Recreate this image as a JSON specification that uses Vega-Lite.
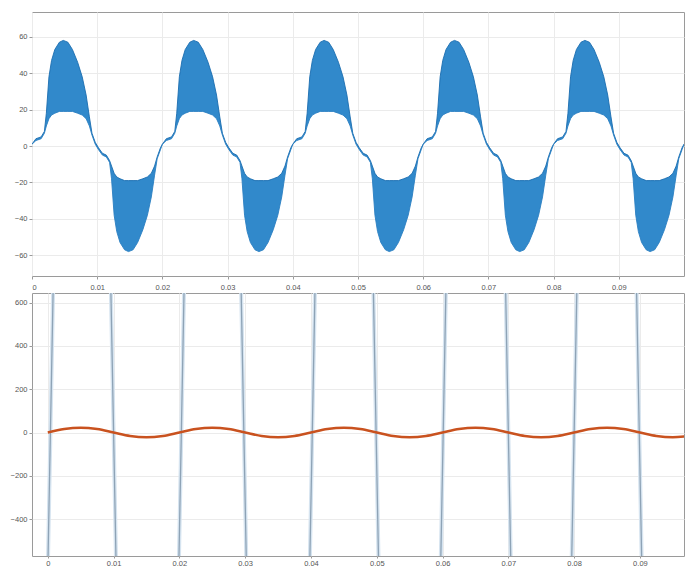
{
  "$schema": "https://vega.github.io/schema/vega-lite/v6.json",
  "padding": {"left": 0, "top": 11, "right": 1, "bottom": 0},
  "background": "white",
  "config": {
    "view": {"stroke": "#9a9a9a", "strokeWidth": 1},
    "axis": {"labelFontSize": 7.5, "labelColor": "#555555", "labelFont": "Liberation Sans", "tickColor": "#9a9a9a", "tickSize": 3, "domain": false, "gridColor": "#ebebeb", "gridWidth": 1, "title": null, "labelPadding": 2}
  },
  "datasets": {
    "top": [
      {"t":0,"u":1,"l":1},{"t":0.0006,"u":4,"l":3},{"t":0.0014,"u":5,"l":4},{"t":0.0019,"u":8,"l":7},{"t":0.0022,"u":18,"l":11},{"t":0.0026,"u":38,"l":15},{"t":0.003,"u":47,"l":17},{"t":0.0035,"u":53,"l":18},{"t":0.0042,"u":57,"l":19},{"t":0.0048,"u":58,"l":19},{"t":0.0055,"u":57,"l":19},{"t":0.0062,"u":53,"l":19},{"t":0.007,"u":46,"l":18},{"t":0.0077,"u":38,"l":17},{"t":0.0083,"u":28,"l":15},{"t":0.0088,"u":16,"l":11},{"t":0.0092,"u":7,"l":6},{"t":0.0097,"u":2,"l":1},{"t":0.0102,"u":-1,"l":-2},{"t":0.0108,"u":-4,"l":-5},{"t":0.0114,"u":-5,"l":-6},{"t":0.0119,"u":-8,"l":-9},{"t":0.0122,"u":-11,"l":-18},{"t":0.0126,"u":-15,"l":-38},{"t":0.013,"u":-17,"l":-47},{"t":0.0135,"u":-18,"l":-53},{"t":0.0142,"u":-19,"l":-57},{"t":0.0148,"u":-19,"l":-58},{"t":0.0155,"u":-19,"l":-57},{"t":0.0162,"u":-19,"l":-53},{"t":0.017,"u":-18,"l":-46},{"t":0.0177,"u":-17,"l":-38},{"t":0.0183,"u":-15,"l":-28},{"t":0.0188,"u":-11,"l":-16},{"t":0.0192,"u":-6,"l":-7},{"t":0.0197,"u":-1,"l":-2},
      {"t":0.02,"u":1,"l":1},{"t":0.0206,"u":4,"l":3},{"t":0.0214,"u":5,"l":4},{"t":0.0219,"u":8,"l":7},{"t":0.0222,"u":18,"l":11},{"t":0.0226,"u":38,"l":15},{"t":0.023,"u":47,"l":17},{"t":0.0235,"u":53,"l":18},{"t":0.0242,"u":57,"l":19},{"t":0.0248,"u":58,"l":19},{"t":0.0255,"u":57,"l":19},{"t":0.0262,"u":53,"l":19},{"t":0.027,"u":46,"l":18},{"t":0.0277,"u":38,"l":17},{"t":0.0283,"u":28,"l":15},{"t":0.0288,"u":16,"l":11},{"t":0.0292,"u":7,"l":6},{"t":0.0297,"u":2,"l":1},{"t":0.0302,"u":-1,"l":-2},{"t":0.0308,"u":-4,"l":-5},{"t":0.0314,"u":-5,"l":-6},{"t":0.0319,"u":-8,"l":-9},{"t":0.0322,"u":-11,"l":-18},{"t":0.0326,"u":-15,"l":-38},{"t":0.033,"u":-17,"l":-47},{"t":0.0335,"u":-18,"l":-53},{"t":0.0342,"u":-19,"l":-57},{"t":0.0348,"u":-19,"l":-58},{"t":0.0355,"u":-19,"l":-57},{"t":0.0362,"u":-19,"l":-53},{"t":0.037,"u":-18,"l":-46},{"t":0.0377,"u":-17,"l":-38},{"t":0.0383,"u":-15,"l":-28},{"t":0.0388,"u":-11,"l":-16},{"t":0.0392,"u":-6,"l":-7},{"t":0.0397,"u":-1,"l":-2},
      {"t":0.04,"u":1,"l":1},{"t":0.0406,"u":4,"l":3},{"t":0.0414,"u":5,"l":4},{"t":0.0419,"u":8,"l":7},{"t":0.0422,"u":18,"l":11},{"t":0.0426,"u":38,"l":15},{"t":0.043,"u":47,"l":17},{"t":0.0435,"u":53,"l":18},{"t":0.0442,"u":57,"l":19},{"t":0.0448,"u":58,"l":19},{"t":0.0455,"u":57,"l":19},{"t":0.0462,"u":53,"l":19},{"t":0.047,"u":46,"l":18},{"t":0.0477,"u":38,"l":17},{"t":0.0483,"u":28,"l":15},{"t":0.0488,"u":16,"l":11},{"t":0.0492,"u":7,"l":6},{"t":0.0497,"u":2,"l":1},{"t":0.0502,"u":-1,"l":-2},{"t":0.0508,"u":-4,"l":-5},{"t":0.0514,"u":-5,"l":-6},{"t":0.0519,"u":-8,"l":-9},{"t":0.0522,"u":-11,"l":-18},{"t":0.0526,"u":-15,"l":-38},{"t":0.053,"u":-17,"l":-47},{"t":0.0535,"u":-18,"l":-53},{"t":0.0542,"u":-19,"l":-57},{"t":0.0548,"u":-19,"l":-58},{"t":0.0555,"u":-19,"l":-57},{"t":0.0562,"u":-19,"l":-53},{"t":0.057,"u":-18,"l":-46},{"t":0.0577,"u":-17,"l":-38},{"t":0.0583,"u":-15,"l":-28},{"t":0.0588,"u":-11,"l":-16},{"t":0.0592,"u":-6,"l":-7},{"t":0.0597,"u":-1,"l":-2},
      {"t":0.06,"u":1,"l":1},{"t":0.0606,"u":4,"l":3},{"t":0.0614,"u":5,"l":4},{"t":0.0619,"u":8,"l":7},{"t":0.0622,"u":18,"l":11},{"t":0.0626,"u":38,"l":15},{"t":0.063,"u":47,"l":17},{"t":0.0635,"u":53,"l":18},{"t":0.0642,"u":57,"l":19},{"t":0.0648,"u":58,"l":19},{"t":0.0655,"u":57,"l":19},{"t":0.0662,"u":53,"l":19},{"t":0.067,"u":46,"l":18},{"t":0.0677,"u":38,"l":17},{"t":0.0683,"u":28,"l":15},{"t":0.0688,"u":16,"l":11},{"t":0.0692,"u":7,"l":6},{"t":0.0697,"u":2,"l":1},{"t":0.0702,"u":-1,"l":-2},{"t":0.0708,"u":-4,"l":-5},{"t":0.0714,"u":-5,"l":-6},{"t":0.0719,"u":-8,"l":-9},{"t":0.0722,"u":-11,"l":-18},{"t":0.0726,"u":-15,"l":-38},{"t":0.073,"u":-17,"l":-47},{"t":0.0735,"u":-18,"l":-53},{"t":0.0742,"u":-19,"l":-57},{"t":0.0748,"u":-19,"l":-58},{"t":0.0755,"u":-19,"l":-57},{"t":0.0762,"u":-19,"l":-53},{"t":0.077,"u":-18,"l":-46},{"t":0.0777,"u":-17,"l":-38},{"t":0.0783,"u":-15,"l":-28},{"t":0.0788,"u":-11,"l":-16},{"t":0.0792,"u":-6,"l":-7},{"t":0.0797,"u":-1,"l":-2},
      {"t":0.08,"u":1,"l":1},{"t":0.0806,"u":4,"l":3},{"t":0.0814,"u":5,"l":4},{"t":0.0819,"u":8,"l":7},{"t":0.0822,"u":18,"l":11},{"t":0.0826,"u":38,"l":15},{"t":0.083,"u":47,"l":17},{"t":0.0835,"u":53,"l":18},{"t":0.0842,"u":57,"l":19},{"t":0.0848,"u":58,"l":19},{"t":0.0855,"u":57,"l":19},{"t":0.0862,"u":53,"l":19},{"t":0.087,"u":46,"l":18},{"t":0.0877,"u":38,"l":17},{"t":0.0883,"u":28,"l":15},{"t":0.0888,"u":16,"l":11},{"t":0.0892,"u":7,"l":6},{"t":0.0897,"u":2,"l":1},{"t":0.0902,"u":-1,"l":-2},{"t":0.0908,"u":-4,"l":-5},{"t":0.0914,"u":-5,"l":-6},{"t":0.0919,"u":-8,"l":-9},{"t":0.0922,"u":-11,"l":-18},{"t":0.0926,"u":-15,"l":-38},{"t":0.093,"u":-17,"l":-47},{"t":0.0935,"u":-18,"l":-53},{"t":0.0942,"u":-19,"l":-57},{"t":0.0948,"u":-19,"l":-58},{"t":0.0955,"u":-19,"l":-57},{"t":0.0962,"u":-19,"l":-53},{"t":0.097,"u":-18,"l":-46},{"t":0.0977,"u":-17,"l":-38},{"t":0.0983,"u":-15,"l":-28},{"t":0.0988,"u":-11,"l":-16},{"t":0.0992,"u":-6,"l":-7},{"t":0.0997,"u":-1,"l":-2},
      {"t":0.1,"u":1,"l":1}
    ],
    "red": [
      {"t":0,"v":0},{"t":0.0025,"v":16},{"t":0.005,"v":22},{"t":0.0075,"v":16},{"t":0.01,"v":0},{"t":0.0125,"v":-16},{"t":0.015,"v":-22},{"t":0.0175,"v":-16},
      {"t":0.02,"v":0},{"t":0.0225,"v":16},{"t":0.025,"v":22},{"t":0.0275,"v":16},{"t":0.03,"v":0},{"t":0.0325,"v":-16},{"t":0.035,"v":-22},{"t":0.0375,"v":-16},
      {"t":0.04,"v":0},{"t":0.0425,"v":16},{"t":0.045,"v":22},{"t":0.0475,"v":16},{"t":0.05,"v":0},{"t":0.0525,"v":-16},{"t":0.055,"v":-22},{"t":0.0575,"v":-16},
      {"t":0.06,"v":0},{"t":0.0625,"v":16},{"t":0.065,"v":22},{"t":0.0675,"v":16},{"t":0.07,"v":0},{"t":0.0725,"v":-16},{"t":0.075,"v":-22},{"t":0.0775,"v":-16},
      {"t":0.08,"v":0},{"t":0.0825,"v":16},{"t":0.085,"v":22},{"t":0.0875,"v":16},{"t":0.09,"v":0},{"t":0.0925,"v":-16},{"t":0.095,"v":-22},{"t":0.0975,"v":-16}
    ],
    "blue": [
      {"t":-0.00004,"v":-700},{"t":0.00084,"v":700},{"t":0.00956,"v":700},{"t":0.01044,"v":-700},
      {"t":0.01986,"v":-700},{"t":0.02074,"v":700},{"t":0.02936,"v":700},{"t":0.03024,"v":-700},
      {"t":0.03976,"v":-700},{"t":0.04064,"v":700},{"t":0.04946,"v":700},{"t":0.05034,"v":-700},
      {"t":0.05966,"v":-700},{"t":0.06054,"v":700},{"t":0.06956,"v":700},{"t":0.07044,"v":-700},
      {"t":0.07956,"v":-700},{"t":0.08044,"v":700},{"t":0.08946,"v":700},{"t":0.09034,"v":-700},
      {"t":0.0975,"v":-700}
    ]
  },
  "vconcat": [
    {
      "width": 652,
      "height": 264,
      "data": {"name": "top"},
      "layer": [
        {
          "mark": {"type": "area", "color": "#3189cb", "clip": true},
          "encoding": {
            "x": {"field": "t", "type": "quantitative", "scale": {"domain": [0, 0.1], "nice": false, "zero": false},
                  "axis": {"values": [0, 0.01, 0.02, 0.03, 0.04, 0.05, 0.06, 0.07, 0.08, 0.09], "format": "~g", "labelPadding": 4, "minExtent": 12, "maxExtent": 12}},
            "y": {"field": "u", "type": "quantitative", "scale": {"domain": [-71.4, 73.6], "nice": false, "zero": false},
                  "axis": {"values": [-60, -40, -20, 0, 20, 40, 60], "minExtent": 31, "maxExtent": 31}},
            "y2": {"field": "l"}
          }
        },
        {
          "mark": {"type": "line", "color": "#1b6db0", "strokeWidth": 0.9, "clip": true},
          "encoding": {"x": {"field": "t", "type": "quantitative"}, "y": {"field": "u", "type": "quantitative"}}
        },
        {
          "mark": {"type": "line", "color": "#2a7fc2", "strokeWidth": 0.9, "clip": true},
          "encoding": {"x": {"field": "t", "type": "quantitative"}, "y": {"field": "l", "type": "quantitative"}}
        }
      ]
    },
    {
      "width": 652,
      "height": 263,
      "layer": [
        {
          "data": {"name": "blue"},
          "mark": {"type": "line", "color": "#d6e4f0", "strokeWidth": 4, "clip": true},
          "encoding": {
            "x": {"field": "t", "type": "quantitative", "scale": {"domain": [-0.0024, 0.0967], "nice": false, "zero": false},
                  "axis": {"values": [0, 0.01, 0.02, 0.03, 0.04, 0.05, 0.06, 0.07, 0.08, 0.09], "format": "~g", "labelPadding": 1, "tickSize": 2}},
            "y": {"field": "v", "type": "quantitative", "scale": {"domain": [-570, 644], "nice": false, "zero": false},
                  "axis": {"values": [-400, -200, 0, 200, 400, 600], "minExtent": 31, "maxExtent": 31}}
          }
        },
        {
          "data": {"name": "blue"},
          "mark": {"type": "line", "color": "#8ea3b6", "strokeWidth": 1.3, "clip": true},
          "encoding": {"x": {"field": "t", "type": "quantitative"}, "y": {"field": "v", "type": "quantitative"}}
        },
        {
          "data": {"name": "red"},
          "mark": {"type": "line", "color": "#c9521f", "strokeWidth": 2.5, "interpolate": "monotone", "clip": true},
          "encoding": {"x": {"field": "t", "type": "quantitative"}, "y": {"field": "v", "type": "quantitative"}}
        }
      ]
    }
  ],
  "spacing": 1
}
